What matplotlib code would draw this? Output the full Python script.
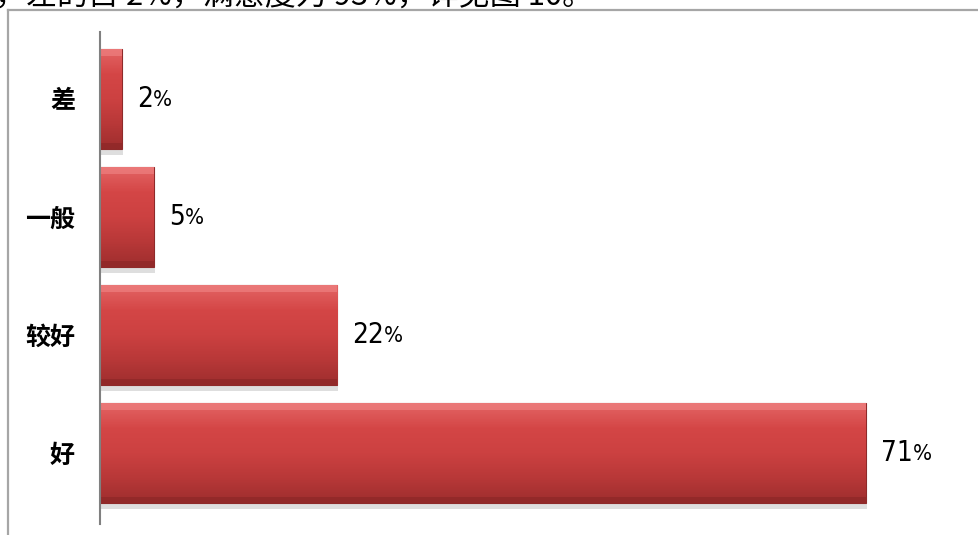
import numpy as np
import matplotlib.pyplot as plt
from matplotlib import font_manager
from matplotlib.patches import Rectangle
from matplotlib.lines import Line2D
from matplotlib.colors import LinearSegmentedColormap

# 数据
categories = ['好', '较好', '一般', '差']
values = [71, 22, 5, 2]
top_text = '，差的占 2%，满意度为 93%，详见图 10。'

plt.rcParams['font.family'] = ['Noto Sans CJK SC', 'DejaVu Sans']

# 数字用窄字体（有就用）
num_font = None
for f in font_manager.fontManager.ttflist:
    if 'Narrow' in f.name or ('Condensed' in f.name and 'Bold' not in f.fname):
        num_font = f.fname
        break
    if f.stretch in ('condensed', 'semi-condensed') and f.weight in (400, 'normal', 'regular') and f.style == 'normal':
        num_font = f.fname
        break
if num_font:
    num_prop = dict(fontproperties=font_manager.FontProperties(fname=num_font, size=20))
    pct_prop = dict(fontproperties=font_manager.FontProperties(fname=num_font, size=16))
else:
    num_prop = dict(fontsize=18, family=['Noto Sans CJK SC'])
    pct_prop = dict(fontsize=14.5, family=['Noto Sans CJK SC'])

W, H = 979, 535
fig = plt.figure(figsize=(W / 100, H / 100), dpi=100)

# 外框（被截掉的文档片段）
fig.add_artist(Line2D([8 / W, 8 / W], [0, 1 - 10 / H], color='#A6A6A6', lw=1.6))
fig.add_artist(Line2D([8 / W, 1], [1 - 10 / H, 1 - 10 / H], color='#A6A6A6', lw=1.6))
fig.text(-5 / W, 1 - 4.5 / H, top_text, fontsize=22.3, ha='left', va='baseline', color='black')

ax = fig.add_axes([100 / W, 23 / H, 863 / W, 472 / H])

y = np.arange(len(categories))
bh = 0.845
bars = ax.barh(y, values, height=bh, color='#CF4242', edgecolor='#8E2A2A', linewidth=0.8, zorder=3)

# 渐变和阴影
grad = np.linspace(0, 1, 100).reshape(-1, 1)
cmap = LinearSegmentedColormap.from_list('bar', ['#E36464', '#D44646', '#CC4141', '#B83838', '#9E2E2E'])
for b in bars:
    x0, y0, w, h = b.get_x(), b.get_y(), b.get_width(), b.get_height()
    ax.add_patch(Rectangle((x0 + 0.1, y0 - 0.05), w, h, color='#C8C8C8', alpha=0.6, zorder=2, lw=0))
    im = ax.imshow(grad, cmap=cmap, extent=(x0, x0 + w, y0, y0 + h), aspect='auto',
                   origin='upper', zorder=3.5)
    im.set_clip_path(b)
    ax.add_patch(Rectangle((x0, y0 + h * 0.93), w, h * 0.07, color='#EE8080', alpha=0.7, lw=0, zorder=4))
    ax.add_patch(Rectangle((x0, y0), w, h * 0.06, color='#8A2626', alpha=0.6, lw=0, zorder=4))

ax.set_xlim(0, 80)
ax.set_ylim(-0.5, 3.5)

# 数值标签
for yi, v in zip(y, values):
    t = ax.annotate(str(v), xy=(v, yi), xytext=(11, 0), textcoords='offset points',
                    ha='left', va='center', **num_prop)
    ax.annotate('%', xy=(1, 0.1), xycoords=t, ha='left', va='bottom', **pct_prop)

ax.set_yticks(y)
ax.set_yticklabels(categories, fontsize=18, fontweight='bold')
ax.tick_params(axis='y', length=0, pad=18)
ax.set_xticks([])
for s in ['top', 'right', 'bottom']:
    ax.spines[s].set_visible(False)
ax.spines['left'].set_color('#808080')
ax.spines['left'].set_linewidth(1.5)
ax.spines['left'].set_bounds(-0.6, 3.57)
ax.spines['left'].set_zorder(5)

fig.savefig('out.png', dpi=100)
